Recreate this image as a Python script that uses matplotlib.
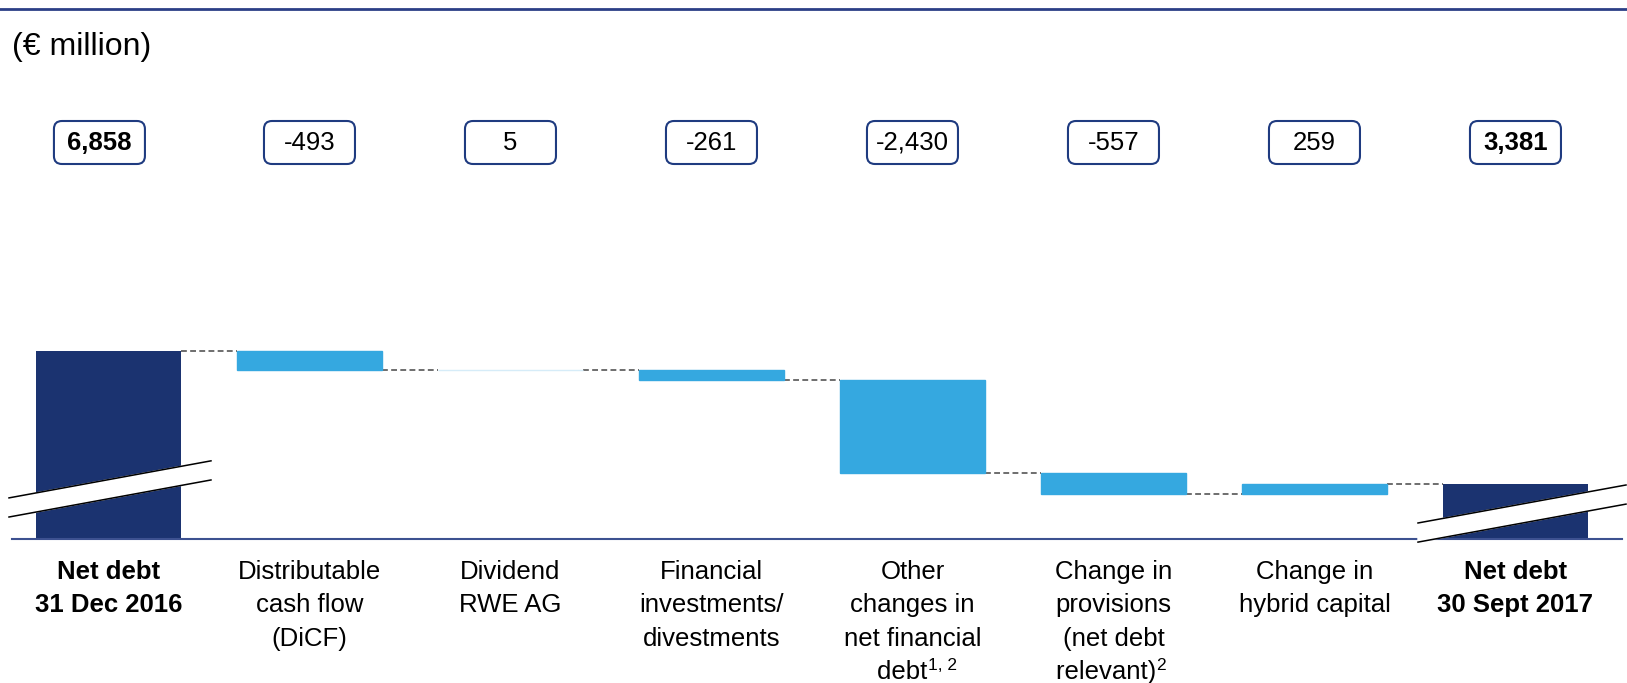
import numpy as np
import matplotlib
matplotlib.use('Agg')
import matplotlib.pyplot as plt
from matplotlib.patches import FancyBboxPatch
from matplotlib.transforms import ScaledTranslation, blended_transform_factory
from matplotlib.lines import Line2D

plt.rcParams['font.family'] = ['Liberation Sans', 'DejaVu Sans']

# data
categories = ['Net debt\n31 Dec 2016',
              'Distributable\ncash flow\n(DiCF)',
              'Dividend\nRWE AG',
              'Financial\ninvestments/\ndivestments',
              'Other\nchanges in\nnet financial\ndebt   ',
              'Change in\nprovisions\n(net debt\nrelevant)  ',
              'Change in\nhybrid capital',
              'Net debt\n30 Sept 2017']
footnotes = {4: ('1, 2', 11), 5: ('2', 31)}
start_value = 6858
changes = [-493, 5, -261, -2430, -557, 259]
end_value = 3381
box_labels = ['6,858', '-493', '5', '-261', '-2,430', '-557', '259', '3,381']

navy = '#1b3370'
blue = '#35a8e0'
light = '#d6ecf8'
edge = '#1f3b80'

totals = start_value + np.concatenate([[0], np.cumsum(changes)])
floor = 1944

fig = plt.figure(figsize=(16.27, 6.83), dpi=100)
ax = fig.add_axes([12 / 1627, 1 - 539 / 683, 1610 / 1627, 239 / 683])
ax.set_xlim(-0.48, 7.53)
ax.set_ylim(floor, 8191)

w = 0.72
ax.bar(0, start_value - floor, bottom=floor, width=w, color=navy, zorder=2)
for i, ch in enumerate(changes):
    lo = min(totals[i], totals[i + 1])
    c = light if abs(ch) < 50 else blue
    ax.bar(i + 1, abs(ch), bottom=lo, width=w, color=c, edgecolor=c, linewidth=1, zorder=2)
ax.bar(7, end_value - floor, bottom=floor, width=w, color=navy, zorder=2)

# connectors
for k in range(7):
    ax.plot([k + w / 2, k + 1 - w / 2], [totals[k], totals[k]], color='#555555',
            lw=1.2, ls=(0, (3.5, 2)), zorder=1)

# axis break marks
bt = blended_transform_factory(ax.transData, ax.transAxes)
def draw_break(x0, x1, ylo0, ylo1, gap):
    xs = [x0, x1, x1, x0]
    ys = [ylo0, ylo1, ylo1 + gap, ylo0 + gap]
    ax.fill(xs, ys, color='white', transform=bt, clip_on=False, zorder=3)
    ax.plot([x0, x1], [ylo0, ylo1], color='black', lw=1.1, transform=bt, clip_on=False, zorder=4)
    ax.plot([x0, x1], [ylo0 + gap, ylo1 + gap], color='black', lw=1.1, transform=bt, clip_on=False, zorder=4)

draw_break(-0.495, 0.51, 0.092, 0.247, 0.08)
draw_break(6.515, 7.55, -0.013, 0.146, 0.08)

ax.set_xticks(range(len(categories)))
ax.set_xticklabels(categories, fontsize=18.5, linespacing=1.5)
ticklabels = ax.get_xticklabels()
for idx in (0, len(categories) - 1):
    ticklabels[idx].set_fontweight('bold')
ax.tick_params(axis='x', length=0, pad=15)
ax.set_yticks([])
for s in ('top', 'left', 'right'):
    ax.spines[s].set_visible(False)
ax.spines['bottom'].set_color('#3d5190')
ax.spines['bottom'].set_linewidth(1.5)

# footnote superscripts
for idx, (txt, dx) in footnotes.items():
    ax.annotate(txt, xy=(0.5, 0), xycoords=ticklabels[idx],
                xytext=(dx, 10), textcoords='offset points', fontsize=12.5,
                ha='left', va='baseline')

# value boxes
blend = blended_transform_factory(ax.transData, fig.transFigure)
ybox = 1 - 142.5 / 683
box_shift = [-0.045, 0, 0, 0, 0, 0, 0, 0]
for i, lab in enumerate(box_labels):
    xb = i + box_shift[i]
    tr = fig.dpi_scale_trans + ScaledTranslation(xb, ybox, blend)
    box = FancyBboxPatch((-0.455, -0.215), 0.91, 0.43,
                         boxstyle='round,pad=0,rounding_size=0.08',
                         facecolor='white', edgecolor=edge, lw=1.5, transform=tr, zorder=2)
    fig.add_artist(box)
    bold = i in (0, len(box_labels) - 1)
    fig.text(xb, ybox, lab, transform=blend, ha='center', va='center', fontsize=18.5,
             fontweight='bold' if bold else 'normal', zorder=5)

fig.text(12 / 1627, 1 - 47 / 683, '(€ million)', fontsize=23, ha='left', va='center')
fig.add_artist(Line2D([0, 1], [1 - 8.5 / 683, 1 - 8.5 / 683], color='#2b3f86', lw=2,
                      transform=fig.transFigure))

fig.savefig('out.png', dpi=100)
